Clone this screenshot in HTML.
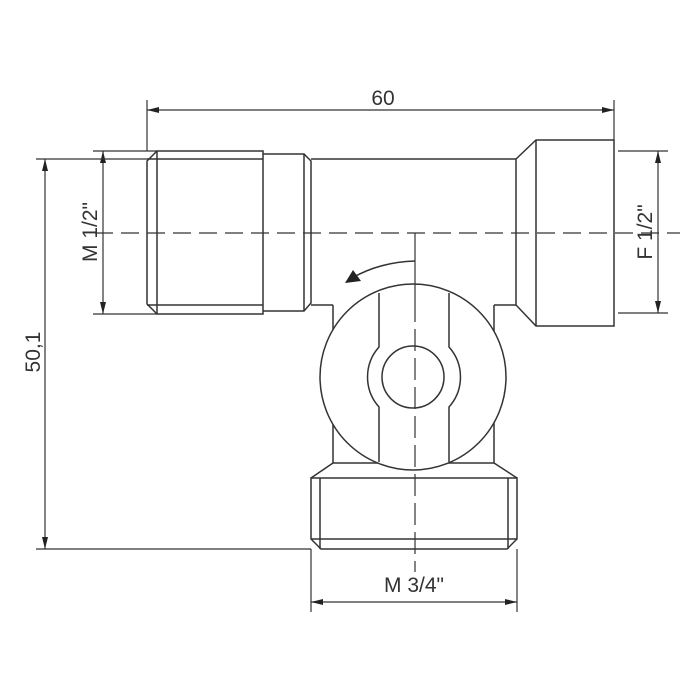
<!DOCTYPE html>
<html><head><style>
html,body{margin:0;padding:0;background:#fff;width:700px;height:700px;overflow:hidden}
svg{display:block}
text{font-family:"Liberation Sans",sans-serif;fill:#333;font-size:21px}
</style></head><body>
<svg width="700" height="700" viewBox="0 0 700 700" xmlns="http://www.w3.org/2000/svg">
<defs>
<marker id="a" viewBox="0 0 12 6" refX="12" refY="3" markerWidth="12" markerHeight="6" orient="auto-start-reverse" markerUnits="userSpaceOnUse"><path d="M0,0L12,3L0,6z" fill="#222"/></marker>
</defs>
<g stroke="#333" stroke-width="1.5" fill="none">
<!-- left male thread -->
<path d="M157,151H263V314H157L147,304V161Z"/>
<line x1="157" y1="151" x2="157" y2="314"/>
<line x1="147" y1="159" x2="263" y2="159"/>
<line x1="147" y1="305" x2="263" y2="305"/>
<!-- neck -->
<path d="M263,154H304L311,161V303L304,311H263"/>
<line x1="304" y1="154" x2="304" y2="311"/>
<!-- main pipe -->
<path d="M311,159H516M311,305H333M494,305H516"/>
<!-- right nut -->
<path d="M516,159L536,140H614V326H536L516,305V159"/>
<line x1="536" y1="140" x2="536" y2="326"/>
<!-- body behind circle -->
<path d="M333,305V463M494,305V463M333,463H494"/>
<path d="M333,463L311,478M494,463L517,478"/>
<!-- bottom nut -->
<path d="M311,478H517V539L507,549H321L311,539Z"/>
<line x1="320" y1="478" x2="320" y2="549"/>
<line x1="508" y1="478" x2="508" y2="549"/>
<line x1="311" y1="539" x2="517" y2="539"/>
<!-- circles -->
<circle cx="413" cy="377" r="93" fill="#fff"/>
<circle cx="413" cy="377" r="31"/>
<path d="M379,293V347A45,45 0 0 0 379,407V462"/>
<path d="M449,293V347A45,45 0 0 1 449,407V462"/>
<!-- arc arrow -->
<path d="M415,261Q380,262 352,278"/>
</g>
<path d="M345,283L353,270L361,281Z" fill="#222"/>
<!-- centerlines -->
<g stroke="#333" stroke-width="1.2" fill="none">
<line x1="95" y1="233" x2="680" y2="233" stroke-dasharray="18,8"/>
<line x1="415" y1="233" x2="415" y2="300"/>
<line x1="415" y1="300" x2="415" y2="572" stroke-dasharray="22,7"/>
</g>
<!-- dimensions -->
<g stroke="#333" stroke-width="1.2" fill="none">
<line x1="147" y1="100" x2="147" y2="151"/>
<line x1="614" y1="100" x2="614" y2="140"/>
<line x1="147" y1="110" x2="614" y2="110" marker-start="url(#a)" marker-end="url(#a)"/>
<line x1="93" y1="151" x2="157" y2="151"/>
<line x1="93" y1="314" x2="157" y2="314"/>
<line x1="103" y1="151" x2="103" y2="314" marker-start="url(#a)" marker-end="url(#a)"/>
<line x1="36" y1="159" x2="147" y2="159"/>
<line x1="36" y1="549" x2="311" y2="549"/>
<line x1="45" y1="159" x2="45" y2="549" marker-start="url(#a)" marker-end="url(#a)"/>
<line x1="618" y1="151" x2="668" y2="151"/>
<line x1="618" y1="313" x2="668" y2="313"/>
<line x1="658" y1="151" x2="658" y2="313" marker-start="url(#a)" marker-end="url(#a)"/>
<line x1="311" y1="549" x2="311" y2="612"/>
<line x1="517" y1="549" x2="517" y2="612"/>
<line x1="311" y1="602" x2="517" y2="602" marker-start="url(#a)" marker-end="url(#a)"/>
</g>
<text x="383" y="105" text-anchor="middle">60</text>
<text x="414" y="592" text-anchor="middle">M 3/4"</text>
<text transform="translate(97,232) rotate(-90)" text-anchor="middle">M 1/2"</text>
<text transform="translate(652,232) rotate(-90)" text-anchor="middle">F 1/2"</text>
<text transform="translate(40,352) rotate(-90)" text-anchor="middle">50,1</text>
</svg>
</body></html>
